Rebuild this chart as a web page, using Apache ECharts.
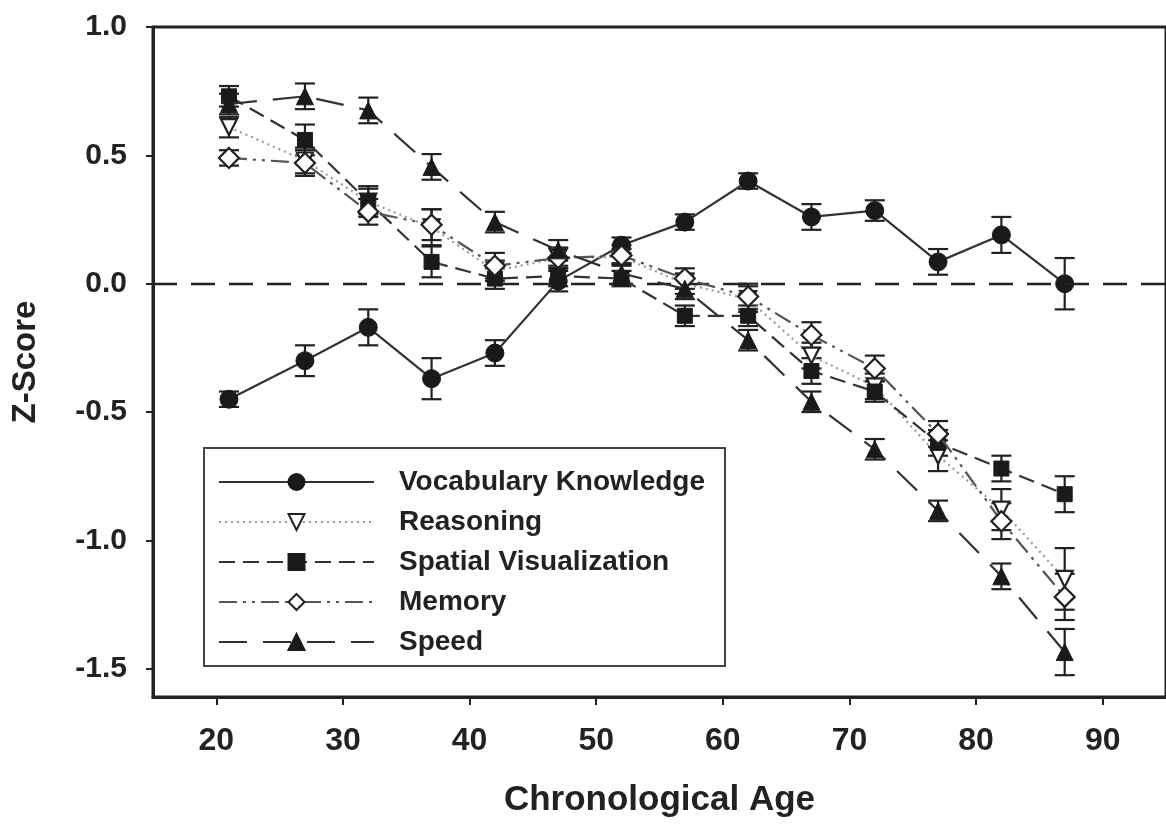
<!DOCTYPE html>
<html>
<head>
<meta charset="utf-8">
<script src="https://cdn.jsdelivr.net/npm/echarts@6/dist/echarts.min.js"></script>
<style>
html,body{margin:0;padding:0;background:#fff;}
#chart{width:1166px;height:827px;}
</style>
</head>
<body>
<div id="chart"></div>
<script>
// ---- data ----
const ages = [21, 27, 32, 37, 42, 47, 52, 57, 62, 67, 72, 77, 82, 87];
const xTicks = [20, 30, 40, 50, 60, 70, 80, 90];
const yTicks = [-1.5, -1.0, -0.5, 0.0, 0.5, 1.0];

const vocab      = [-0.45, -0.30, -0.17, -0.37, -0.27, 0.01, 0.15, 0.24, 0.40, 0.26, 0.285, 0.085, 0.19, 0.00];
const vocabErr   = [0.03, 0.06, 0.07, 0.08, 0.05, 0.04, 0.03, 0.03, 0.03, 0.05, 0.04, 0.05, 0.07, 0.10];
const reasoning  = [0.61, 0.48, 0.32, 0.22, 0.05, 0.10, 0.105, 0.00, -0.06, -0.28, -0.40, -0.67, -0.88, -1.15];
const reasoningErr = [0.04, 0.05, 0.06, 0.07, 0.04, 0.04, 0.03, 0.04, 0.05, 0.05, 0.05, 0.06, 0.08, 0.12];
const spatial    = [0.73, 0.56, 0.32, 0.085, 0.02, 0.03, 0.02, -0.125, -0.125, -0.34, -0.42, -0.62, -0.72, -0.82];
const spatialErr = [0.04, 0.06, 0.05, 0.06, 0.04, 0.04, 0.03, 0.04, 0.04, 0.05, 0.04, 0.05, 0.05, 0.07];
const memory     = [0.49, 0.47, 0.28, 0.23, 0.07, 0.10, 0.11, 0.02, -0.05, -0.20, -0.33, -0.585, -0.925, -1.22];
const memoryErr  = [0.03, 0.05, 0.05, 0.06, 0.05, 0.04, 0.04, 0.04, 0.05, 0.05, 0.05, 0.05, 0.07, 0.09];
const speed      = [0.70, 0.73, 0.675, 0.455, 0.24, 0.13, 0.04, -0.02, -0.22, -0.46, -0.645, -0.885, -1.14, -1.435];
const speedErr   = [0.04, 0.05, 0.05, 0.05, 0.04, 0.04, 0.04, 0.04, 0.04, 0.04, 0.04, 0.04, 0.05, 0.09];

const names = ['Vocabulary Knowledge', 'Reasoning', 'Spatial Visualization', 'Memory', 'Speed'];

// ---- helpers ----
const pts = v => ages.map((a, i) => [a, v[i]]);
const errs = (v, e) => ages.map((a, i) => [a, v[i] - e[i], v[i] + e[i]]);

function errRender(params, api) {
  const x = api.value(0);
  const p1 = api.coord([x, api.value(2)]);
  const p2 = api.coord([x, api.value(1)]);
  const w = 10;
  const st = { stroke: '#222', lineWidth: 2.2 };
  return {
    type: 'group',
    children: [
      { type: 'line', shape: { x1: p1[0], y1: p1[1], x2: p2[0], y2: p2[1] }, style: st },
      { type: 'line', shape: { x1: p1[0] - w, y1: p1[1], x2: p1[0] + w, y2: p1[1] }, style: st },
      { type: 'line', shape: { x1: p2[0] - w, y1: p2[1], x2: p2[0] + w, y2: p2[1] }, style: st }
    ]
  };
}

const downTri = 'path://M0,0 L10,0 L5,9 Z';
const openStyle = { color: '#fff', borderColor: '#222', borderWidth: 2.2 };
const fillStyle = { color: '#1a1a1a', borderColor: '#1a1a1a', borderWidth: 1 };

const lineDefs = [
  { name: names[0], data: vocab, err: vocabErr, symbol: 'circle', size: 18, item: fillStyle,
    line: { color: '#333', width: 2.2, type: 'solid' } },
  { name: names[1], data: reasoning, err: reasoningErr, symbol: downTri, size: 16, item: openStyle,
    line: { color: '#999', width: 2.2, type: [2, 4] } },
  { name: names[2], data: spatial, err: spatialErr, symbol: 'rect', size: 15, item: fillStyle,
    line: { color: '#333', width: 2.2, type: [16, 8] } },
  { name: names[3], data: memory, err: memoryErr, symbol: 'diamond', size: 20, item: openStyle,
    line: { color: '#555', width: 2.2, type: [18, 6, 3, 6, 3, 6] } },
  { name: names[4], data: speed, err: speedErr, symbol: 'triangle', size: 17, item: fillStyle,
    line: { color: '#333', width: 2.2, type: [28, 16] } }
];

const series = [];
lineDefs.forEach((d) => {
  series.push({
    type: 'custom',
    name: d.name + ' err',
    renderItem: errRender,
    encode: { x: 0, y: [1, 2] },
    data: errs(d.data, d.err),
    z: 2,
    silent: true
  });
});
lineDefs.forEach((d, k) => {
  const s = {
    type: 'line',
    name: d.name,
    data: pts(d.data),
    symbol: d.symbol,
    symbolSize: d.size,
    showAllSymbol: true,
    itemStyle: d.item,
    lineStyle: d.line,
    z: 3 + k,
    animation: false
  };
  if (k === 0) {
    s.markLine = {
      silent: true,
      symbol: ['none', 'none'],
      label: { show: false },
      lineStyle: { color: '#222', width: 2.4, type: [24, 14] },
      data: [{ yAxis: 0 }]
    };
  }
  series.push(s);
});

const FONT = 'Liberation Sans, Arial, sans-serif';
const chart = echarts.init(document.getElementById('chart'), null, { renderer: 'canvas' });
chart.setOption({
  animation: false,
  backgroundColor: '#fff',
  grid: {
    left: 153, right: -4, top: 27, bottom: 130,
    show: true, borderColor: '#222', borderWidth: 3, backgroundColor: 'transparent'
  },
  legend: {
    data: names,
    orient: 'vertical',
    left: 204, top: 448,
    itemWidth: 155, itemHeight: 20, itemGap: 12,
    padding: [20, 20, 10, 14],
    borderColor: '#444', borderWidth: 2,
    backgroundColor: '#fff',
    selectedMode: false,
    textStyle: {
      fontFamily: FONT, fontWeight: 'bold',
      fontSize: 28, lineHeight: 28, color: '#222', padding: [0, 0, 0, 20]
    }
  },
  xAxis: {
    type: 'value', min: 15, max: 95,
    name: 'Chronological Age', nameLocation: 'middle', nameGap: 86,
    nameTextStyle: { fontFamily: FONT, fontWeight: 'bold', fontSize: 35, color: '#222' },
    axisLine: { show: true, onZero: false, lineStyle: { color: '#222', width: 3 } },
    axisTick: { show: true, customValues: xTicks, length: 8, inside: false, lineStyle: { color: '#222', width: 2 } },
    axisLabel: { customValues: xTicks, margin: 28, fontFamily: FONT, fontWeight: 'bold', fontSize: 32, color: '#222' },
    splitLine: { show: false }
  },
  yAxis: {
    type: 'value', min: -1.61, max: 1.0,
    name: 'Z-Score', nameLocation: 'middle', nameGap: 111, nameRotate: 90,
    nameTextStyle: { fontFamily: FONT, fontWeight: 'bold', fontSize: 33, color: '#222' },
    axisLine: { show: true, onZero: false, lineStyle: { color: '#222', width: 3 } },
    axisTick: { show: true, customValues: yTicks, length: 7, inside: false, lineStyle: { color: '#222', width: 2 } },
    axisLabel: {
      customValues: yTicks, margin: 26,
      formatter: v => v.toFixed(1),
      fontFamily: FONT, fontWeight: 'bold', fontSize: 30, color: '#222'
    },
    splitLine: { show: false }
  },
  series: series
});
</script>
</body>
</html>
